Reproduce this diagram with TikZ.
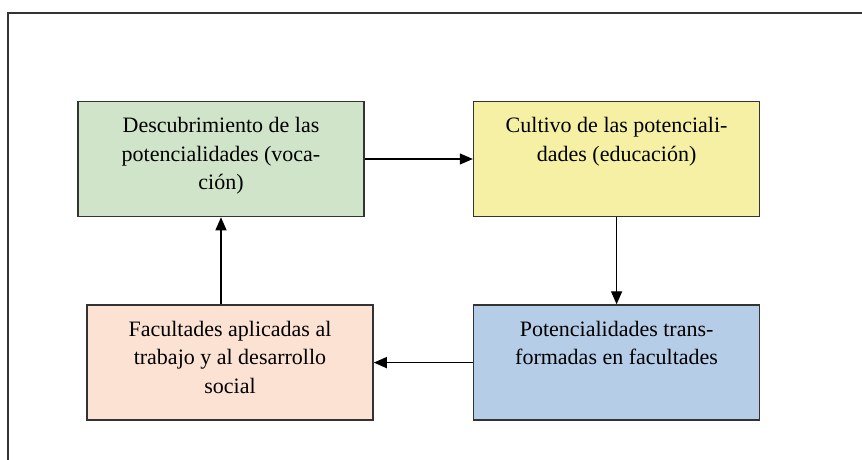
\documentclass[tikz,border=0pt]{standalone}
\usepackage{fontspec}
\setmainfont{Liberation Serif}
\usetikzlibrary{positioning,arrows.meta}
\definecolor{boxgreen}{HTML}{CFE4C8}
\definecolor{boxyellow}{HTML}{F6F0A4}
\definecolor{boxblue}{HTML}{B6CDE8}
\definecolor{boxpink}{HTML}{FBE2D3}
\definecolor{edgegray}{HTML}{333333}
\newcommand{\boxtext}[1]{\parbox[c][83pt][t]{262pt}{\centering #1}}

\begin{document}
\begin{tikzpicture}[
    x=1pt, y=1pt,
    % --- Node styles ---
    stage/.style={
      rectangle, draw=edgegray, line width=1.6pt,
      minimum width=286pt, minimum height=115pt,
      inner xsep=12pt, inner ysep=16pt,
      font=\fontsize{22}{28.5}\selectfont, align=center,
    },
    greenbox/.style={stage, fill=boxgreen},
    yellowbox/.style={stage, fill=boxyellow},
    bluebox/.style={stage, fill=boxblue},
    pinkbox/.style={stage, fill=boxpink},
    % --- Arrow styles ---
    flow/.style={-{Triangle[length=13pt, width=11pt]}, line width=1.3pt, color=black},
    frame/.style={draw=edgegray, line width=1.6pt},
  ]

    \useasboundingbox (0,0) rectangle (862,-460);

    % ===================== OUTER FRAME =====================
    \coordinate (frmbl) at (8,-460);
    \coordinate (frmtr) at (862,-13);
    \draw[frame] (frmbl) |- (frmtr);

    % ===================== CYCLE =====================
    \node[greenbox] at (221,-159) (vocacion)
      {\boxtext{Descubrimiento de las\\potencialidades (voca-\\ción)}};
    \node[yellowbox, right=108pt of vocacion] (educacion)
      {\boxtext{Cultivo de las potenciali-\\dades (educación)}};
    \node[bluebox, below=87pt of educacion] (facultades)
      {\boxtext{Potencialidades trans-\\formadas en facultades}};
    \node[pinkbox, left=99pt of facultades] (social)
      {\boxtext{Facultades aplicadas al\\trabajo y al desarrollo\\social}};

    % ===================== ARROWS =====================
    \draw[flow] (vocacion.east) -- (educacion.west);
    \draw[flow] (educacion.south) -- (educacion.south |- facultades.north);
    \draw[flow] (facultades.west) -- (social.east);
    \draw[flow] (vocacion.south |- social.north) -- (vocacion.south);

  \end{tikzpicture}
\end{document}
